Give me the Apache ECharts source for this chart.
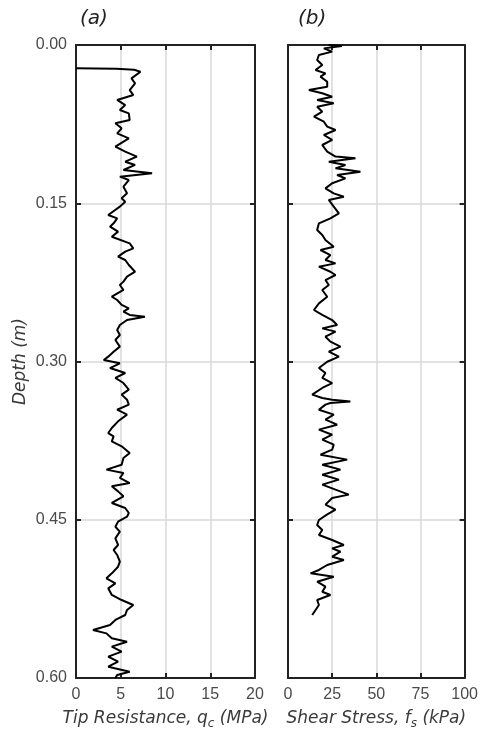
<!DOCTYPE html>
<html>
<head>
<meta charset="utf-8">
<script src="https://cdn.jsdelivr.net/npm/echarts@6/dist/echarts.min.js"></script>
<style>html,body{margin:0;padding:0;background:#fff;}#c{width:481px;height:735px;}</style>
</head>
<body>
<div id="c"></div>
<script>
// ---- data (depth in m, tip resistance in MPa) ----
const depthA = [0.0221,0.0224,0.0235,0.0253,0.0269,0.0316,0.0363,0.0427,0.0474,0.0521,0.0569,0.0616,0.0648,0.0711,0.0742,0.0790,0.0837,0.0885,0.0964,0.1011,0.1058,0.1106,0.1137,0.1185,0.1216,0.1248,0.1280,0.1343,0.1406,0.1453,
0.1485,0.1532,0.1611,0.1643,0.1690,0.1722,0.1769,0.1817,0.1880,0.1927,0.1959,0.2006,0.2038,0.2085,0.2149,0.2196,0.2243,0.2275,0.2322,0.2386,0.2417,0.2464,0.2496,0.2528,0.2559,0.2575,0.2607,0.2654,0.2701,0.2749,0.2796,0.2859,0.2907,0.2954,0.2986,0.3017,
0.3062,0.3109,0.3156,0.3204,0.3267,0.3314,0.3362,0.3409,0.3457,0.3504,0.3567,0.3630,0.3678,0.3709,0.3757,0.3804,0.3867,0.3915,0.3978,0.4025,0.4057,0.4104,0.4152,0.4183,0.4231,0.4278,0.4341,0.4389,0.4436,
0.4471,0.4518,0.4566,0.4613,0.4676,0.4739,0.4787,0.4834,0.4897,0.4945,0.5008,0.5055,0.5103,0.5150,0.5213,0.5261,0.5308,0.5355,0.5403,0.5450,0.5498,0.5545,0.5577,0.5624,0.5656,0.5703,0.5750,0.5798,0.5845,0.5893,0.5940,0.5972,0.6000];
const tipA = [0,4.5,6.5,7.2,7.2,6.2,6.6,6.0,6.4,4.6,5.5,4.9,5.9,6.0,4.4,5.1,4.6,5.9,4.4,5.5,6.8,5.5,6.6,5.3,8.5,4.9,5.9,5.3,5.7,5.1,
5.5,4.9,3.6,4.6,4.2,3.8,4.7,4.0,6.0,6.4,5.5,4.7,5.5,5.9,6.6,5.7,5.3,4.9,5.3,4.0,4.6,5.1,5.9,5.3,6.0,7.7,5.7,4.9,4.6,4.9,4.4,4.9,4.2,3.6,3.1,4.9,
3.8,5.5,4.4,5.3,5.9,5.1,5.7,5.9,4.6,5.7,4.7,4.0,3.6,4.2,4.0,5.1,6.0,5.3,5.1,3.4,5.3,4.9,6.0,4.0,4.7,5.3,4.0,5.5,5.9,
5.7,4.7,4.4,4.9,4.4,4.7,4.2,4.6,4.9,4.7,4.0,3.4,4.4,3.6,4.0,5.1,6.4,5.7,5.5,4.4,3.8,1.9,3.4,4.0,5.7,4.0,5.1,3.6,4.7,3.6,6.0,4.6,4.4];

// ---- data (depth in m, shear stress in kPa) ----
const depthB = [0.0000,0.0010,0.0032,0.0063,0.0095,0.0142,0.0190,0.0237,0.0269,0.0300,0.0348,0.0395,0.0427,0.0458,0.0490,0.0521,0.0553,0.0585,0.0632,0.0679,0.0727,0.0774,0.0806,0.0853,0.0900,0.0948,0.1011,0.1058,0.1074,0.1106,0.1137,0.1169,0.1201,0.1232,0.1264,0.1311,0.1359,0.1406,0.1438,0.1469,
0.1532,0.1596,0.1643,0.1690,0.1754,0.1801,0.1848,0.1912,0.1943,0.1991,0.2038,0.2070,0.2101,0.2149,0.2180,0.2228,0.2275,0.2322,0.2386,0.2449,0.2512,0.2559,0.2607,0.2654,0.2686,0.2717,0.2765,0.2812,0.2859,0.2907,0.2954,0.3002,
0.3062,0.3109,0.3156,0.3204,0.3251,0.3314,0.3346,0.3362,0.3378,0.3393,0.3409,0.3457,0.3504,0.3551,0.3599,0.3646,0.3694,0.3741,0.3788,0.3836,0.3883,0.3930,0.3978,0.4025,0.4073,0.4120,0.4167,0.4215,0.4262,0.4294,0.4357,0.4404,0.4452,
0.4502,0.4550,0.4597,0.4645,0.4692,0.4739,0.4771,0.4803,0.4850,0.4882,0.4929,0.4976,0.5008,0.5040,0.5087,0.5134,0.5182,0.5213,0.5261,0.5308,0.5355,0.5403];
const shearB = [23.0,30.5,20.3,25.0,17.5,16.5,19.4,15.6,21.2,18.4,22.2,22.2,11.8,19.4,25.0,16.5,25.9,16.5,19.4,14.7,20.3,22.2,26.9,20.3,25.0,19.4,22.2,26.9,38.2,23.1,32.5,26.9,41.0,27.8,32.5,25.0,21.2,25.9,31.6,23.1,
25.9,28.8,24.0,17.5,16.5,19.4,21.2,25.9,18.4,24.0,21.2,26.9,17.5,24.0,26.9,21.2,23.1,19.4,22.2,17.5,14.7,19.4,25.0,27.8,19.4,26.9,21.2,24.0,29.7,23.1,28.8,22.2,
17.5,21.2,19.4,25.0,19.4,13.7,19.4,25.0,35.3,24.0,21.2,17.5,25.9,21.2,27.8,17.5,25.0,19.4,25.9,25.0,18.4,33.5,19.4,29.7,19.4,28.8,19.4,26.9,34.4,25.0,21.2,26.9,22.0,
17.5,16.5,19.4,17.5,25.0,31.6,25.0,29.7,25.0,31.6,22.2,17.5,12.8,25.9,16.5,21.2,19.4,24.0,16.5,17.5,15.6,13.7];

// ---- axis ranges ----
const depthRange = [0, 0.6, 0.15];
const tipRange = [0, 20, 5];
const shearRange = [0, 100, 25];

const FONT = 'Liberation Sans, Arial, Helvetica, sans-serif';
const NFONT = 'DejaVu Sans, Liberation Sans, sans-serif';
const border = {show: true, onZero: false, lineStyle: {color: '#222', width: 2}};
const grid = {show: true, lineStyle: {color: '#d8d8d8', width: 1.5}};
const tick = {show: true, inside: true, length: 5, lineStyle: {color: '#222', width: 2}};
const lbl = {color: '#4a4a4a', fontSize: 16, fontFamily: FONT};

function xAx(gi, r, pos, name) {
  const a = {
    type: 'value', gridIndex: gi, position: pos, min: r[0], max: r[1], interval: r[2],
    axisLine: border, axisTick: tick,
    splitLine: pos === 'bottom' ? grid : {show: false},
    axisLabel: pos === 'bottom' ? Object.assign({margin: 9}, lbl) : {show: false}
  };
  if (name) {
    a.name = name; a.nameLocation = 'middle'; a.nameGap = 23;
    a.nameTextStyle = {
      rich: {
        i: {fontSize: 17, fontStyle: 'italic', color: '#3a3a3a', fontFamily: NFONT, lineHeight: 20},
        s: {fontSize: 12, fontStyle: 'italic', color: '#3a3a3a', fontFamily: NFONT, lineHeight: 20, padding: [10, 0, 0, 0]}
      }
    };
  }
  return a;
}
function yAx(gi, pos, showLabel, name) {
  const a = {
    type: 'value', gridIndex: gi, position: pos, inverse: true,
    min: depthRange[0], max: depthRange[1], interval: depthRange[2],
    axisLine: border, axisTick: tick,
    splitLine: pos === 'left' ? grid : {show: false},
    axisLabel: showLabel ? Object.assign({margin: 9, formatter: v => v.toFixed(2)}, lbl) : {show: false}
  };
  if (name) {
    a.name = name; a.nameLocation = 'middle'; a.nameGap = 47;
    a.nameTextStyle = {fontSize: 17, fontStyle: 'italic', color: '#3a3a3a', fontFamily: NFONT};
  }
  return a;
}

const chart = echarts.init(document.getElementById('c'));
chart.setOption({
  animation: false,
  backgroundColor: '#fff',
  grid: [
    {left: 76, top: 45, width: 179, height: 633},
    {left: 288, top: 45, width: 178, height: 633}
  ],
  xAxis: [
    xAx(0, tipRange, 'bottom', '{i|Tip Resistance, q}{s|c}{i| (MPa)}'),
    xAx(0, tipRange, 'top'),
    xAx(1, shearRange, 'bottom', '{i|Shear Stress, f}{s|s}{i| (kPa)}'),
    xAx(1, shearRange, 'top')
  ],
  yAxis: [
    yAx(0, 'left', true, 'Depth (m)'),
    yAx(0, 'right', false),
    yAx(1, 'left', false),
    yAx(1, 'right', false)
  ],
  graphic: [
    {type: 'text', left: 80, top: 9, style: {text: '(a)', font: 'italic 20px ' + NFONT, fill: '#222'}},
    {type: 'text', left: 298, top: 9, style: {text: '(b)', font: 'italic 20px ' + NFONT, fill: '#222'}}
  ],
  series: [
    {type: 'line', xAxisIndex: 0, yAxisIndex: 0, showSymbol: false, symbol: 'none',
     lineStyle: {color: '#000', width: 2}, data: depthA.map((d, i) => [tipA[i], d])},
    {type: 'line', xAxisIndex: 2, yAxisIndex: 2, showSymbol: false, symbol: 'none',
     lineStyle: {color: '#000', width: 2}, data: depthB.map((d, i) => [shearB[i], d])}
  ]
});
</script>
</body>
</html>
